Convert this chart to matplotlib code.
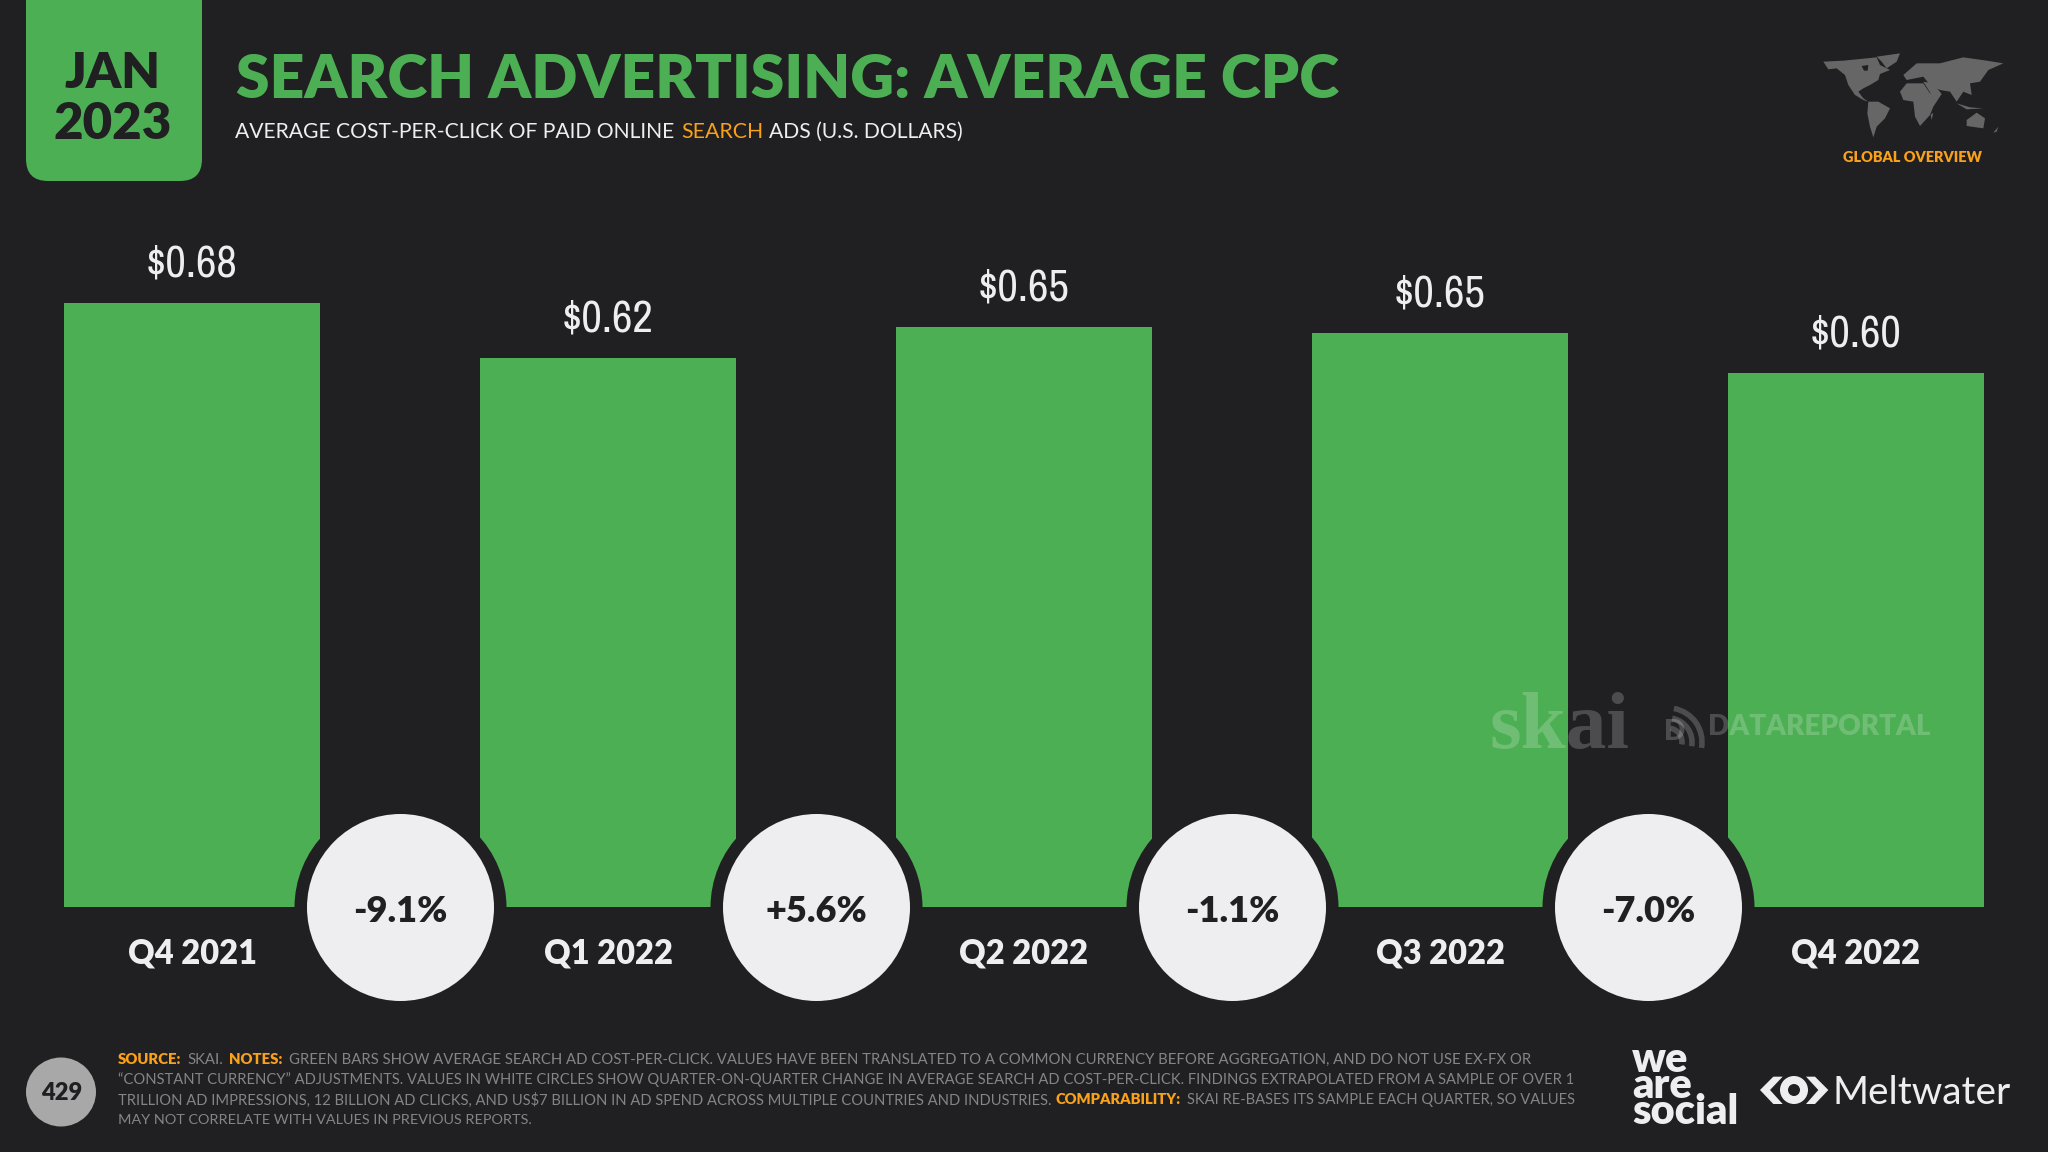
import matplotlib
matplotlib.use('Agg')
import matplotlib.pyplot as plt
from matplotlib import font_manager
from matplotlib.patches import Circle, Ellipse, FancyBboxPatch, Arc, Polygon

# chart values
quarters = ['Q4 2021', 'Q1 2022', 'Q2 2022', 'Q3 2022', 'Q4 2022']
cpc = [0.68, 0.618, 0.653, 0.646, 0.601]
cpc_labels = ['$0.68', '$0.62', '$0.65', '$0.65', '$0.60']
changes = ['-9.1%', '+5.6%', '-1.1%', '-7.0%']

BG = '#201F21'
GREEN = '#4DAF53'
ORANGE = '#F9A11B'
WHITE = '#EEEEF0'
GREY = '#858586'

plt.rcParams['font.family'] = ['Lato', 'DejaVu Sans']

# the dollar labels are set in a tall narrow face, use one if the machine has it
narrow = sorted({f.name for f in font_manager.fontManager.ttflist
                 if 'Condensed' in f.name or 'Narrow' in f.name})
VALUE_FONT = (narrow + ['Lato'])[0]

fig = plt.figure(figsize=(20.48, 11.52), dpi=100, facecolor=BG)
renderer = fig.canvas.get_renderer()


def fit(t, width):
    t.set_fontsize(t.get_fontsize() * width / t.get_window_extent(renderer).width)
    return t


# bars axes: baseline at y=906.5px, 887px per dollar, bars 416px apart
ax = fig.add_axes([0, (1152 - 906.5) / 1152, 1, 700 / 1152])
ax.set_facecolor('none')
ax.set_xlim(-192 / 416, (2048 - 192) / 416)
ax.set_ylim(0, 700 / 887)
ax.bar(range(5), cpc, width=256 / 416, color=GREEN)
for s in ax.spines.values():
    s.set_visible(False)
ax.yaxis.set_visible(False)
ax.set_xticks(range(5))
ax.set_xticklabels(quarters, fontsize=23.5, fontweight='heavy', color=WHITE)
ax.tick_params(axis='x', length=0, pad=22)

for i, lab in enumerate(cpc_labels):
    fit(ax.annotate(lab, (i, cpc[i]), xytext=(0, 28), textcoords='offset points', ha='center',
                    va='center', color=WHITE, fontsize=34, family=VALUE_FONT), 92)

mid = [i + 0.5 for i in range(4)]
# 1px = 0.72pt, marker size is the square of the diameter in points
ax.scatter(mid, [0] * 4, s=(212 * 0.72) ** 2, color=BG, clip_on=False, zorder=3, linewidths=0)
ax.scatter(mid, [0] * 4, s=(187 * 0.72) ** 2, color=WHITE, clip_on=False, zorder=4, linewidths=0)
for m, lab in zip(mid, changes):
    ax.annotate(lab, (m, 0), xytext=(0, -3.5), textcoords='offset points', ha='center', va='center',
                color=BG, fontsize=26, fontweight='heavy', zorder=5)

# overlay in pixel coordinates for header, footer and logos
over = fig.add_axes([0, 0, 1, 1], zorder=5)
over.set_xlim(0, 2048)
over.set_ylim(1152, 0)
over.axis('off')

over.add_patch(FancyBboxPatch((26, -40), 176, 221, boxstyle='round,pad=0,rounding_size=22',
                              color=GREEN, linewidth=0))
fit(over.text(113, 73, 'JAN', ha='center', va='center', color=BG, fontweight='heavy', fontsize=40), 96)
fit(over.text(113, 124, '2023', ha='center', va='center', color=BG, fontweight='heavy', fontsize=40), 118)

fit(over.text(236, 80, 'SEARCH ADVERTISING: AVERAGE CPC', va='center', color=GREEN,
              fontweight='heavy', fontsize=50), 1104)

# subtitle has one orange word
sub = [('AVERAGE COST-PER-CLICK OF PAID ONLINE', WHITE, 235, 439), ('SEARCH', ORANGE, 681, 82),
       ('ADS (U.S. DOLLARS)', WHITE, 769, 195)]
for txt, col, x, w in sub:
    fit(over.text(x, 132, txt, va='center', color=col, fontsize=18), w)

# world map, rough outlines
map_shapes = [
    [(370, 125), (430, 122), (470, 118), (530, 112), (540, 135), (570, 150), (540, 162),
     (535, 180), (510, 195), (490, 205), (475, 215), (490, 235), (505, 245), (490, 240), (465, 225),
     (445, 195), (435, 165), (410, 145), (385, 148)],
    [(530, 110), (600, 100), (590, 125), (560, 145), (545, 125)],
    [(505, 245), (535, 245), (570, 265), (555, 295), (530, 320), (520, 352), (510, 320), (502, 280)],
    [(600, 215), (620, 190), (670, 190), (690, 220), (725, 222), (700, 260), (690, 285), (660, 318),
     (645, 290), (640, 245), (610, 240)],
    [(670, 185), (700, 190), (725, 222), (695, 225)],
    [(610, 165), (650, 130), (720, 130), (790, 112), (860, 122), (910, 130), (865, 150), (840, 185),
     (810, 190), (815, 225), (790, 215), (770, 245), (750, 215), (720, 210), (690, 195), (670, 170),
     (620, 180)],
    [(800, 300), (830, 278), (855, 295), (850, 325), (800, 318)],
    [(692, 285), (700, 278), (695, 300)],
    [(770, 250), (810, 262), (850, 265), (800, 268)],
    [(880, 338), (895, 320), (890, 335)],
]
for shape in map_shapes:
    over.add_patch(Polygon([(1700 + a / 3, 20 + b / 3) for a, b in shape], color='#666667', linewidth=0))
# Hudson Bay
over.add_patch(Polygon([(1700 + a / 3, 20 + b / 3) for a, b in [(485, 138), (505, 135), (503, 152), (492, 152)]],
                       color=BG, linewidth=0))
fit(over.text(1843, 158, 'GLOBAL OVERVIEW', va='center', color=ORANGE, fontweight='heavy', fontsize=12), 139)

# watermarks
fit(over.text(1490, 748, 'skai', va='baseline', color='white', alpha=0.2, fontweight='bold',
              family=['Liberation Serif', 'DejaVu Serif'], fontsize=60), 140)
fit(over.text(1708, 727, 'DATAREPORTAL', va='center', color='white', alpha=0.2, fontweight='heavy', fontsize=22), 222)
over.text(1664, 732, 'D', va='center', color='white', alpha=0.2, fontweight='heavy', fontsize=20)
for r in (14, 24, 34):
    over.add_patch(Arc((1668, 742), r * 2, r * 2, theta1=-80, theta2=10, color='white', alpha=0.2, linewidth=4))

# footer
over.add_patch(Ellipse((61, 1092), 70, 69, color='#A8A8A9', linewidth=0))
over.text(62, 1093, '429', ha='center', va='center', color=BG, fontweight='heavy', fontsize=17)

foot_lines = [
    (1060, 1527, [('SOURCE:', True), ('SKAI.', False), ('NOTES:', True),
                  ('GREEN BARS SHOW AVERAGE SEARCH AD COST-PER-CLICK. VALUES HAVE BEEN TRANSLATED TO A COMMON CURRENCY BEFORE AGGREGATION, AND DO NOT USE EX-FX OR', False)]),
    (1080, 1575, [('\u201cCONSTANT CURRENCY\u201d ADJUSTMENTS. VALUES IN WHITE CIRCLES SHOW QUARTER-ON-QUARTER CHANGE IN AVERAGE SEARCH AD COST-PER-CLICK. FINDINGS EXTRAPOLATED FROM A SAMPLE OF OVER 1', False)]),
    (1100, 1575, [('TRILLION AD IMPRESSIONS, 12 BILLION AD CLICKS, AND US$7 BILLION IN AD SPEND ACROSS MULTIPLE COUNTRIES AND INDUSTRIES.', False),
                  ('COMPARABILITY:', True), ('SKAI RE-BASES ITS SAMPLE EACH QUARTER, SO VALUES', False)]),
    (1120, 531, [('MAY NOT CORRELATE WITH VALUES IN PREVIOUS REPORTS.', False)]),
]
FOOT_SIZE = 11.0
for y, end, runs in foot_lines:
    # measure the line first so it ends where the reference line ends
    gap = 6
    widths = []
    for txt, bold in runs:
        t = over.text(0, y, txt, fontsize=FOOT_SIZE, fontweight='heavy' if bold else 'normal')
        widths.append(t.get_window_extent(renderer).width)
        t.remove()
    scale = (end - 118 - gap * (len(runs) - 1)) / sum(widths)
    x = 118
    for (txt, bold), w in zip(runs, widths):
        over.text(x, y, txt, va='center', fontsize=FOOT_SIZE * scale,
                  fontweight='heavy' if bold else 'normal', color=ORANGE if bold else GREY)
        x += w * scale + gap

# logos
over.text(1632, 1124, 'we\nare\nsocial', va='baseline', ha='left', color=WHITE, fontweight='heavy',
          fontsize=30, linespacing=0.62)
fit(over.text(1833, 1104, 'Meltwater', va='baseline', color=WHITE, fontsize=30), 178)
left_chev = [(480, 180), (520, 140), (548, 140), (510, 180), (548, 222), (520, 222)]
right_chev = [(685, 180), (645, 140), (618, 140), (655, 180), (618, 222), (645, 222)]
for chev in (left_chev, right_chev):
    over.add_patch(Polygon([(1600 + a / 3, 1030 + b / 3) for a, b in chev], color=WHITE, linewidth=0))
over.add_patch(Circle((1794, 1090), 14, color=WHITE, linewidth=0))
over.add_patch(Circle((1794, 1090), 6, color=BG, linewidth=0))

fig.savefig('out.png', dpi=100, facecolor=BG)
